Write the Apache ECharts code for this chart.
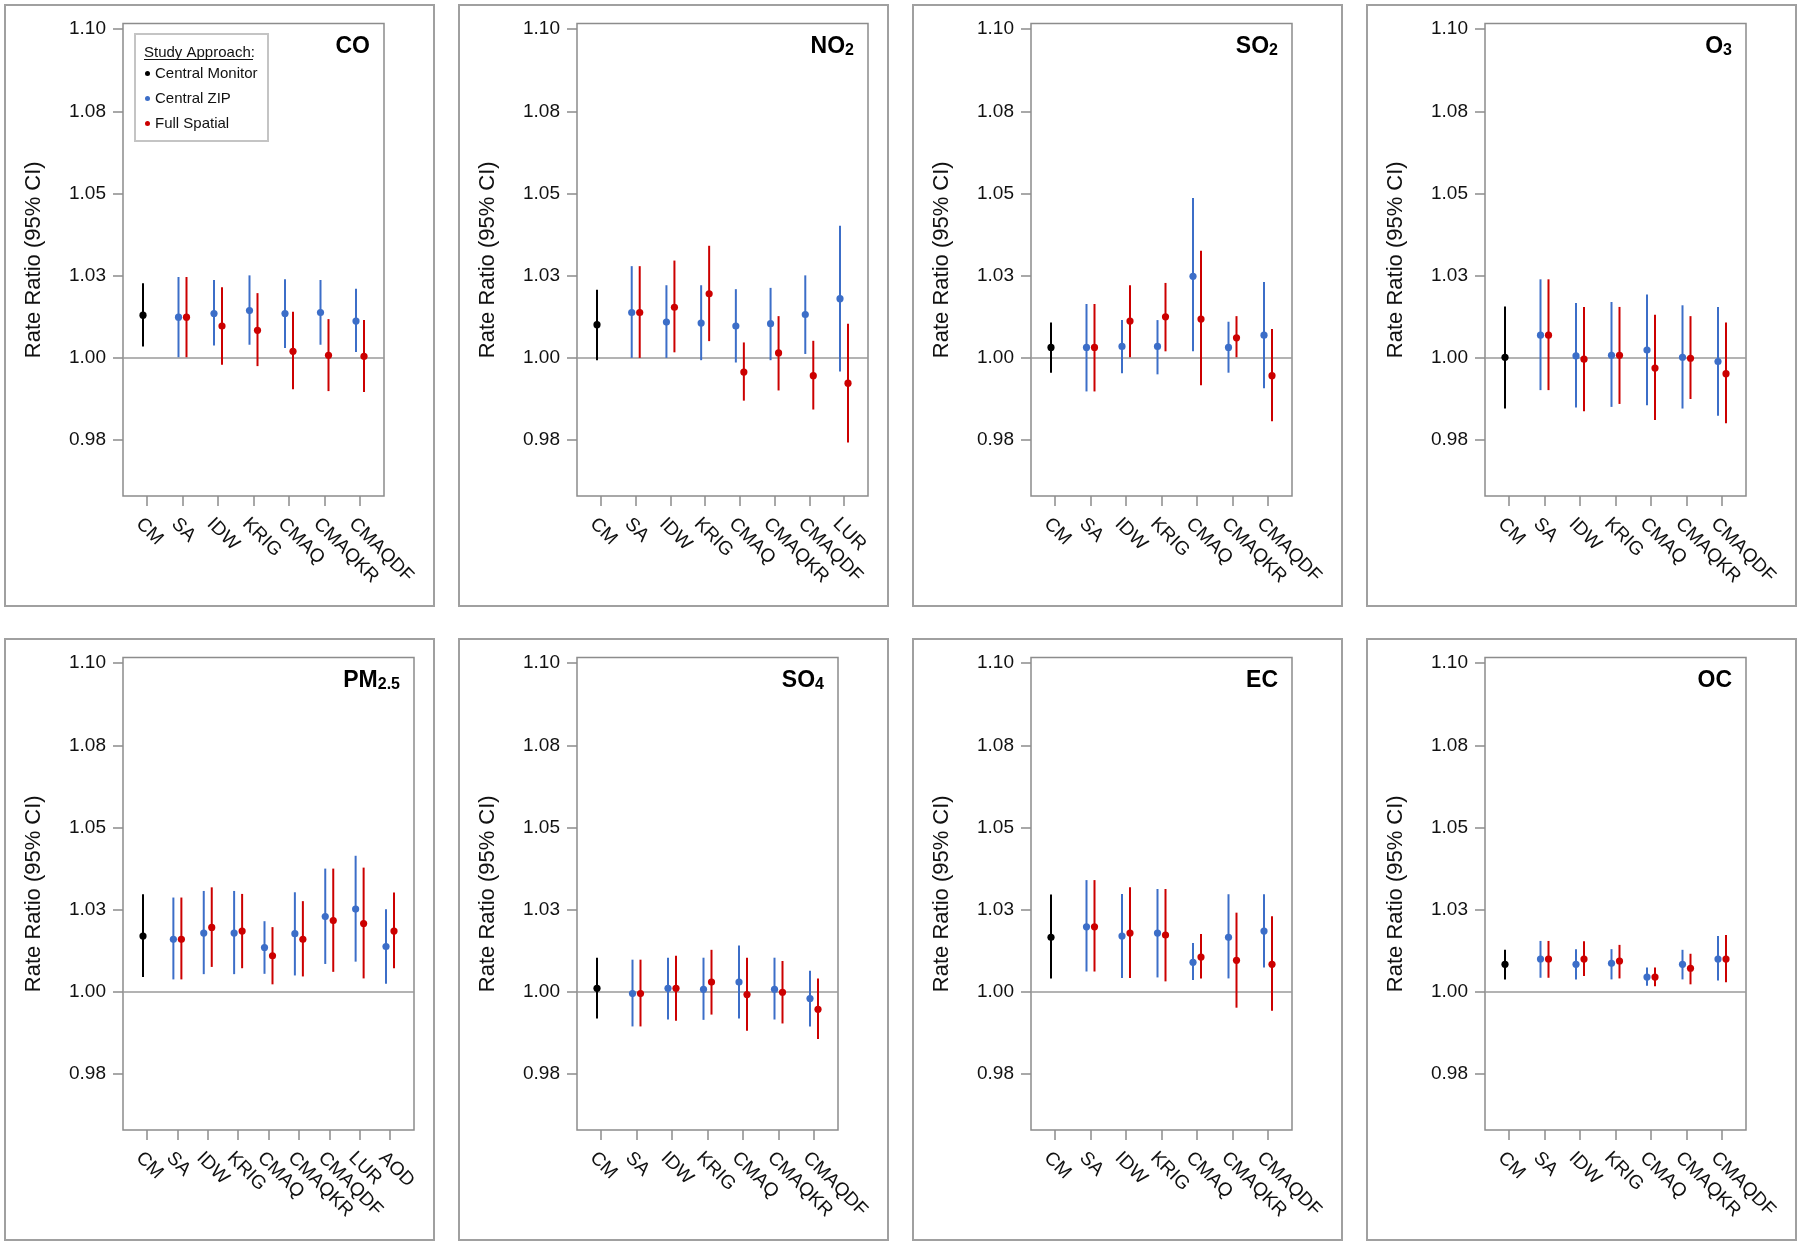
<!DOCTYPE html>
<html>
<head>
<meta charset="utf-8">
<script src="https://cdn.jsdelivr.net/npm/echarts@6/dist/echarts.min.js"></script>
<style>
  html, body { margin: 0; padding: 0; background: #fff; }
  #main { width: 1800px; height: 1245px; }
</style>
</head>
<body>
<div id="main"></div>
<script>
// exposure methods on the x axis
const catsBase = ['CM', 'SA', 'IDW', 'KRIG', 'CMAQ', 'CMAQKR', 'CMAQDF'];
const catsNO2 = catsBase.concat(['LUR']);
const catsPM = catsBase.concat(['LUR', 'AOD']);

// y ticks (labels are rounded to 2 decimals, as in the figure)
const yTickValues = [0.975, 1.0, 1.025, 1.05, 1.075, 1.10];
const yTickLabels = ['0.98', '1.00', '1.03', '1.05', '1.08', '1.10'];

// every entry: [estimate, lower, upper]; ZIP / Full start at SA
const coCM = [1.0130, 1.0035, 1.0227];
const coZIP = [[1.0124, 1.0002, 1.0246], [1.0135, 1.0038, 1.0237], [1.0144, 1.0040, 1.0251], [1.0135, 1.0030, 1.0239], [1.0138, 1.0040, 1.0237], [1.0112, 1.0018, 1.0210]];
const coFull = [[1.0124, 1.0002, 1.0246], [1.0097, 0.9979, 1.0215], [1.0084, 0.9975, 1.0197], [1.0020, 0.9905, 1.0140], [1.0008, 0.9899, 1.0118], [1.0005, 0.9896, 1.0115]];

const no2CM = [1.0101, 0.9993, 1.0207];
const no2ZIP = [[1.0138, 1.0000, 1.0279], [1.0109, 1.0000, 1.0221], [1.0106, 0.9993, 1.0221], [1.0097, 0.9986, 1.0209], [1.0104, 0.9993, 1.0213], [1.0132, 1.0012, 1.0251], [1.0180, 0.9959, 1.0402]];
const no2Full = [[1.0138, 1.0000, 1.0279], [1.0154, 1.0017, 1.0296], [1.0195, 1.0051, 1.0341], [0.9957, 0.9870, 1.0047], [1.0015, 0.9901, 1.0127], [0.9946, 0.9843, 1.0052], [0.9923, 0.9743, 1.0104]];

const so2CM = [1.0032, 0.9955, 1.0108];
const so2ZIP = [[1.0032, 0.9898, 1.0164], [1.0035, 0.9953, 1.0115], [1.0035, 0.9950, 1.0115], [1.0248, 1.0020, 1.0486], [1.0032, 0.9955, 1.0110], [1.0069, 0.9908, 1.0231]];
const so2Full = [[1.0032, 0.9898, 1.0164], [1.0112, 1.0002, 1.0221], [1.0125, 1.0020, 1.0228], [1.0118, 0.9917, 1.0326], [1.0061, 1.0002, 1.0127], [0.9946, 0.9807, 1.0088]];

const o3CM = [1.0002, 0.9846, 1.0156];
const o3ZIP = [[1.0069, 0.9902, 1.0239], [1.0006, 0.9849, 1.0167], [1.0008, 0.9851, 1.0170], [1.0024, 0.9856, 1.0193], [1.0002, 0.9846, 1.0160], [0.9989, 0.9824, 1.0155]];
const o3Full = [[1.0069, 0.9902, 1.0239], [0.9996, 0.9838, 1.0155], [1.0008, 0.9860, 1.0155], [0.9969, 0.9811, 1.0131], [0.9999, 0.9875, 1.0127], [0.9952, 0.9801, 1.0108]];

const pmCM = [1.0170, 1.0045, 1.0297];
const pmZIP = [[1.0160, 1.0038, 1.0287], [1.0179, 1.0054, 1.0307], [1.0179, 1.0054, 1.0307], [1.0135, 1.0055, 1.0215], [1.0177, 1.0050, 1.0303], [1.0229, 1.0085, 1.0375], [1.0252, 1.0092, 1.0414], [1.0138, 1.0025, 1.0251]];
const pmFull = [[1.0160, 1.0038, 1.0287], [1.0196, 1.0076, 1.0318], [1.0185, 1.0072, 1.0298], [1.0110, 1.0023, 1.0197], [1.0160, 1.0047, 1.0276], [1.0217, 1.0061, 1.0375], [1.0208, 1.0041, 1.0378], [1.0185, 1.0072, 1.0302]];

const so4CM = [1.0011, 0.9919, 1.0104];
const so4ZIP = [[0.9995, 0.9895, 1.0098], [1.0011, 0.9916, 1.0104], [1.0008, 0.9915, 1.0104], [1.0030, 0.9919, 1.0141], [1.0008, 0.9916, 1.0104], [0.9980, 0.9895, 1.0064]];
const so4Full = [[0.9995, 0.9895, 1.0098], [1.0011, 0.9912, 1.0110], [1.0030, 0.9931, 1.0128], [0.9992, 0.9882, 1.0104], [0.9999, 0.9904, 1.0094], [0.9947, 0.9857, 1.0041]];

const ecCM = [1.0166, 1.0041, 1.0296];
const ecZIP = [[1.0198, 1.0062, 1.0340], [1.0170, 1.0042, 1.0298], [1.0179, 1.0044, 1.0313], [1.0090, 1.0036, 1.0149], [1.0166, 1.0041, 1.0297], [1.0185, 1.0074, 1.0297]];
const ecFull = [[1.0198, 1.0062, 1.0340], [1.0179, 1.0042, 1.0318], [1.0173, 1.0032, 1.0313], [1.0106, 1.0041, 1.0176], [1.0096, 0.9952, 1.0241], [1.0084, 0.9943, 1.0230]];

const ocCM = [1.0084, 1.0038, 1.0128];
const ocZIP = [[1.0100, 1.0043, 1.0155], [1.0084, 1.0038, 1.0130], [1.0087, 1.0038, 1.0130], [1.0045, 1.0019, 1.0074], [1.0084, 1.0038, 1.0128], [1.0100, 1.0035, 1.0170]];
const ocFull = [[1.0100, 1.0043, 1.0155], [1.0100, 1.0048, 1.0154], [1.0094, 1.0041, 1.0143], [1.0045, 1.0017, 1.0074], [1.0072, 1.0023, 1.0116], [1.0100, 1.0029, 1.0173]];

const panels = [
  { title: '{b|CO}', cats: catsBase, cm: coCM, zip: coZIP, full: coFull },
  { title: '{b|NO}{s|2}', cats: catsNO2, cm: no2CM, zip: no2ZIP, full: no2Full },
  { title: '{b|SO}{s|2}', cats: catsBase, cm: so2CM, zip: so2ZIP, full: so2Full },
  { title: '{b|O}{s|3}', cats: catsBase, cm: o3CM, zip: o3ZIP, full: o3Full },
  { title: '{b|PM}{s|2.5}', cats: catsPM, cm: pmCM, zip: pmZIP, full: pmFull },
  { title: '{b|SO}{s|4}', cats: catsBase, cm: so4CM, zip: so4ZIP, full: so4Full },
  { title: '{b|EC}', cats: catsBase, cm: ecCM, zip: ecZIP, full: ecFull },
  { title: '{b|OC}', cats: catsBase, cm: ocCM, zip: ocZIP, full: ocFull }
];

const FONT = 'Liberation Sans, Arial, sans-serif';
const BLACK = '#000000', BLUE = '#3c6ec8', RED = '#cc0000';
const boxLeft = [5, 459, 913, 1367];
const boxTop = [5, 639];
const boxW = 429, boxH = 601;

// one error bar: vertical CI line plus the estimate dot
function renderBar(params, api) {
  const x = api.value(0);
  const lo = api.coord([x, api.value(1)]);
  const hi = api.coord([x, api.value(2)]);
  const pt = api.coord([x, api.value(3)]);
  const color = api.visual('color');
  return {
    type: 'group',
    children: [
      { type: 'line', shape: { x1: lo[0], y1: lo[1], x2: hi[0], y2: hi[1] }, style: { stroke: color, lineWidth: 2 } },
      { type: 'circle', shape: { cx: pt[0], cy: pt[1], r: 3.6 }, style: { fill: color } }
    ]
  };
}

const grids = [], xAxes = [], yAxes = [], series = [], titles = [], graphics = [];

panels.forEach((p, i) => {
  const col = i % 4, row = Math.floor(i / 4);
  const n = p.cats.length;
  const gLeft = boxLeft[col] + 118;
  const gTop = boxTop[row] + 18.5;
  const gH = 472.5;
  const gW = n === 7 ? 261 : 291;
  const step = (gW - 48) / (n - 1);   // px per category
  const off = 4 / step;                 // side-by-side offset of the two approaches
  const labOff = 8 / step;

  graphics.push({
    type: 'rect', silent: true, z: 0,
    shape: { x: boxLeft[col], y: boxTop[row], width: boxW, height: boxH },
    style: { fill: 'none', stroke: '#a0a0a0', lineWidth: 2 }
  });

  grids.push({ left: gLeft, top: gTop, width: gW, height: gH, show: true, borderColor: '#8c8c8c', borderWidth: 1.5 });

  const idx = p.cats.map((c, k) => k + 1);
  xAxes.push({
    gridIndex: i, type: 'value',
    min: 1 - 24 / step, max: n + 24 / step,
    axisLine: { show: false },
    splitLine: { show: false },
    axisTick: { show: true, length: 10, customValues: idx, lineStyle: { color: '#8c8c8c', width: 1.5 } },
    axisLabel: {
      customValues: idx.map(v => v - labOff),
      formatter: v => p.cats[Math.round(v) - 1],
      rotate: -45, margin: 25, fontSize: 19, color: '#111', fontFamily: FONT
    }
  });

  yAxes.push({
    gridIndex: i, type: 'value', min: 0.958, max: 1.1017,
    axisLine: { show: false },
    splitLine: { show: false },
    axisTick: { show: true, length: 10, customValues: yTickValues, lineStyle: { color: '#8c8c8c', width: 1.5 } },
    axisLabel: {
      customValues: yTickValues,
      formatter: v => yTickLabels[yTickValues.findIndex(t => Math.abs(t - v) < 1e-6)],
      margin: 17, fontSize: 19, color: '#111', fontFamily: FONT
    },
    name: 'Rate Ratio (95% CI)', nameLocation: 'middle', nameGap: 78,
    nameTextStyle: { fontSize: 22, color: '#111', fontFamily: FONT }
  });

  titles.push({
    text: p.title, right: 1800 - (gLeft + gW - 14), top: gTop + 11, padding: 0,
    textStyle: {
      fontFamily: FONT,
      rich: {
        b: { fontSize: 23, fontWeight: 'bold', color: '#000', lineHeight: 24, fontFamily: FONT },
        s: { fontSize: 16, fontWeight: 'bold', color: '#000', lineHeight: 14, verticalAlign: 'bottom', fontFamily: FONT }
      }
    }
  });

  series.push({
    name: 'Central Monitor', type: 'custom', xAxisIndex: i, yAxisIndex: i,
    itemStyle: { color: BLACK }, renderItem: renderBar, z: 3,
    encode: { x: 0, y: [1, 2, 3] },
    data: [[1 - off, p.cm[1], p.cm[2], p.cm[0]]],
    markLine: {
      silent: true, symbol: 'none', z: 1,
      label: { show: false },
      lineStyle: { color: '#9a9a9a', width: 1.5, type: 'solid' },
      data: [{ yAxis: 1 }]
    }
  });
  series.push({
    name: 'Central ZIP', type: 'custom', xAxisIndex: i, yAxisIndex: i,
    itemStyle: { color: BLUE }, renderItem: renderBar, z: 3,
    encode: { x: 0, y: [1, 2, 3] },
    data: p.zip.map((d, k) => [k + 2 - off, d[1], d[2], d[0]])
  });
  series.push({
    name: 'Full Spatial', type: 'custom', xAxisIndex: i, yAxisIndex: i,
    itemStyle: { color: RED }, renderItem: renderBar, z: 3,
    encode: { x: 0, y: [1, 2, 3] },
    data: p.full.map((d, k) => [k + 2 + off, d[1], d[2], d[0]])
  });
});

// legend frame and heading inside the CO panel
graphics.push({
  type: 'rect', silent: true, z: 5,
  shape: { x: 135, y: 34, width: 133, height: 107 },
  style: { fill: '#fff', stroke: '#c4c4c4', lineWidth: 2 }
});
graphics.push({
  type: 'text', silent: true, z: 6, x: 144, y: 52.5,
  style: { text: 'Study Approach:', font: '15px ' + FONT, fill: '#111', textVerticalAlign: 'middle' }
});
graphics.push({
  type: 'line', silent: true, z: 6,
  shape: { x1: 144, y1: 59.5, x2: 253, y2: 59.5 },
  style: { stroke: '#111', lineWidth: 1.2 }
});

const chart = echarts.init(document.getElementById('main'));
chart.setOption({
  backgroundColor: '#fff',
  animation: false,
  textStyle: { fontFamily: FONT },
  title: titles,
  grid: grids,
  xAxis: xAxes,
  yAxis: yAxes,
  legend: {
    left: 145, top: 66, orient: 'vertical', z: 10,
    selectedMode: false, itemWidth: 5, itemHeight: 5, itemGap: 10, padding: 0,
    textStyle: { fontSize: 15, color: '#111', lineHeight: 15, fontFamily: FONT },
    data: [
      { name: 'Central Monitor', icon: 'circle', itemStyle: { color: BLACK } },
      { name: 'Central ZIP', icon: 'circle', itemStyle: { color: BLUE } },
      { name: 'Full Spatial', icon: 'circle', itemStyle: { color: RED } }
    ]
  },
  graphic: graphics,
  series: series
});
</script>
</body>
</html>
